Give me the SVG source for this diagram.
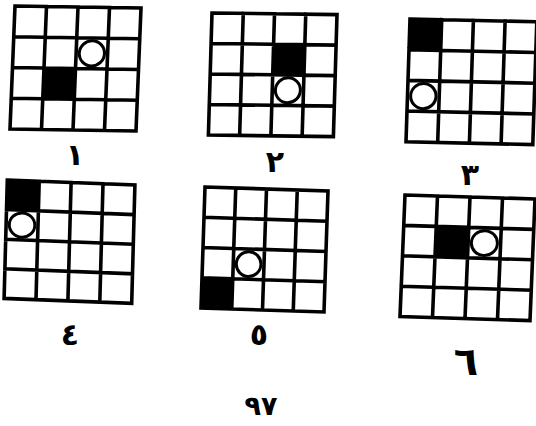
<svg xmlns="http://www.w3.org/2000/svg" xmlns:xlink="http://www.w3.org/1999/xlink" width="536" height="426" viewBox="0 0 536 426">
<style>
.ln{fill:none;stroke:#000;stroke-width:3.6;vector-effect:non-scaling-stroke;stroke-linecap:square}
.blk{fill:#000}
.cir{fill:#fff;stroke:#000;stroke-width:3;vector-effect:non-scaling-stroke}
.lbl{font-family:"DejaVu Sans",sans-serif;font-size:30px;font-weight:bold;fill:#000;text-anchor:middle}
</style>
<defs>
<path id="grid" class="ln" d="M0 0H4V4H0Z M1 0V4 M2 0V4 M3 0V4 M0 1H4 M0 2H4 M0 3H4"/>
</defs>
<rect width="536" height="426" fill="#fff"/>
<g id="grid1" transform="matrix(31.5 0.5 -1.25 30.75 15 6)">
<rect class="blk" x="1" y="2" width="1" height="1"/>
<use href="#grid"/>
<ellipse class="cir" cx="2.5" cy="1.5" rx="0.4" ry="0.41"/>
</g>
<g id="grid2" transform="matrix(31.25 0.4 -0.9 30.5 212 13)">
<rect class="blk" x="2" y="1" width="1" height="1"/>
<use href="#grid"/>
<ellipse class="cir" cx="2.5" cy="2.5" rx="0.4" ry="0.41"/>
</g>
<g id="grid3" transform="matrix(31.7 0.7 -1 30.7 410 19)">
<rect class="blk" x="0" y="0" width="1" height="1"/>
<use href="#grid"/>
<ellipse class="cir" cx="0.5" cy="2.5" rx="0.4" ry="0.41"/>
</g>
<g id="grid4" transform="matrix(31.9 1.25 -0.8 29.6 7.3 180)">
<rect class="blk" x="0" y="0" width="1" height="1"/>
<use href="#grid"/>
<ellipse class="cir" cx="0.5" cy="1.5" rx="0.4" ry="0.41"/>
</g>
<g id="grid5" transform="matrix(30.75 1 -1 30.25 205 187)">
<rect class="blk" x="0" y="3" width="1" height="1"/>
<use href="#grid"/>
<ellipse class="cir" cx="1.5" cy="2.5" rx="0.4" ry="0.41"/>
</g>
<g id="grid6" transform="matrix(32.5 1 -1.25 30.4 405 195)">
<rect class="blk" x="1" y="1" width="1" height="1"/>
<use href="#grid"/>
<ellipse class="cir" cx="2.5" cy="1.5" rx="0.4" ry="0.41"/>
</g>
<g id="labels">
<text class="lbl" x="75" y="165">١</text>
<text class="lbl" x="275" y="172">٢</text>
<text class="lbl" x="470" y="185">٣</text>
<text class="lbl" x="70" y="345">٤</text>
<text class="lbl" x="259" y="345">٥</text>
<text class="lbl" x="466" y="375" style="font-size:40px">٦</text>
<text class="lbl" x="261" y="415" style="font-size:27px">٩٧</text>
</g>
</svg>
